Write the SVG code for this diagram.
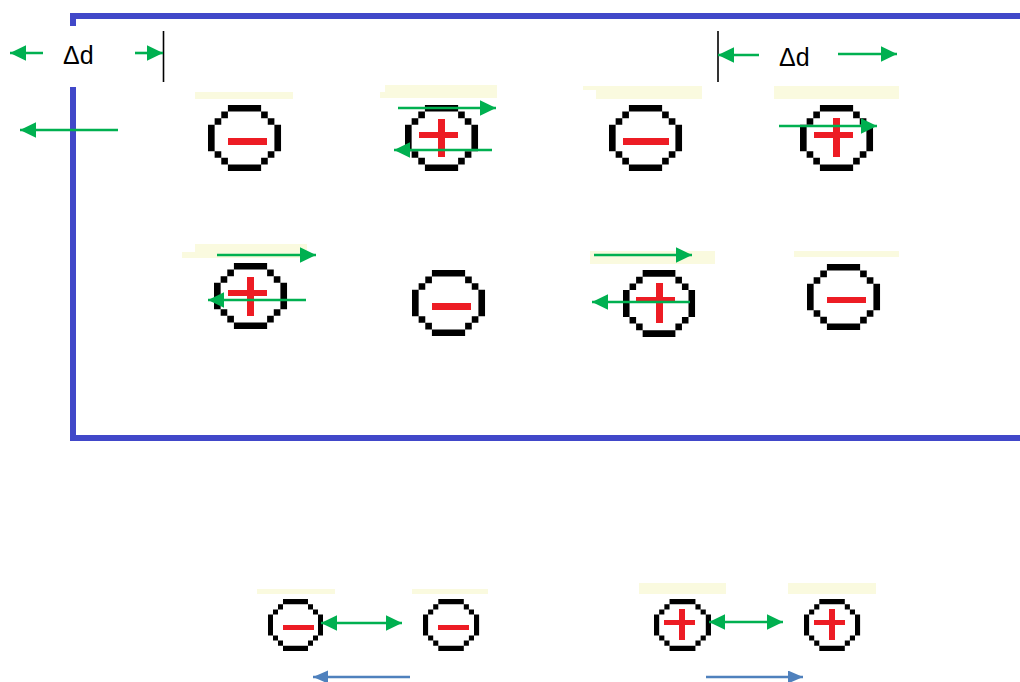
<svg xmlns="http://www.w3.org/2000/svg" xmlns:xlink="http://www.w3.org/1999/xlink" width="1020" height="682" viewBox="0 0 1020 682">
  <style>
    .frame { fill: #4148C9; }
    .hl { fill: #FAFADF; }
    .ring { fill: #000000; }
    .sign { fill: #ED1C24; }
    .tick { stroke: #000000; stroke-width: 1.6; }
    .garrow { stroke: #00B050; stroke-width: 2.6; fill: none; marker-end: url(#gHead); }
    .gboth { stroke: #00B050; stroke-width: 2.6; fill: none; marker-start: url(#gHead); marker-end: url(#gHead); }
    .barrow { stroke: #4F81BD; stroke-width: 2.6; fill: none; marker-end: url(#bHead); }
    .label { font-family: "Liberation Sans", Arial, sans-serif; font-size: 25px; fill: #000000; }
  </style>
  <defs>
    <!-- pixel-style ring on an 11 x 10 grid -->
    <path id="ring" d="M3 0h5v1h-5z M2 1h1v1h-1z M8 1h1v1h-1z M1 2h1v1h-1z M9 2h1v1h-1z M0 3h1v4h-1z M10 3h1v4h-1z M1 7h1v1h-1z M9 7h1v1h-1z M2 8h1v1h-1z M8 8h1v1h-1z M3 9h5v1h-5z"/>
    <marker id="gHead" markerUnits="userSpaceOnUse" markerWidth="17" markerHeight="16" refX="16" refY="7.8" orient="auto-start-reverse">
      <path d="M0 0 L16 7.8 L0 15.6 Z" fill="#00B050"/>
    </marker>
    <marker id="bHead" markerUnits="userSpaceOnUse" markerWidth="16" markerHeight="14" refX="15" refY="6.5" orient="auto">
      <path d="M0 0 L15 6.5 L0 13 Z" fill="#4F81BD"/>
    </marker>
  </defs>

  <!-- container frame -->
  <g id="frame">
    <rect class="frame" x="70" y="13" width="950" height="6"/>
    <rect class="frame" x="70" y="13" width="6" height="13"/>
    <rect class="frame" x="70" y="87" width="6" height="354"/>
    <rect class="frame" x="70" y="435" width="950" height="6"/>
  </g>

  <!-- pale highlight strips -->
  <g id="highlights">
    <rect class="hl" x="195" y="92" width="98" height="7"/>
    <polygon class="hl" points="385,85 497,85 497,98 380,98 380,92 385,92"/>
    <polygon class="hl" points="583,86 702,86 702,99 596,99 596,90 583,90"/>
    <rect class="hl" x="774" y="86" width="125" height="13"/>
    <polygon class="hl" points="195,244 307,244 307,258 182,258 182,252 195,252"/>
    <rect class="hl" x="590" y="251" width="125" height="13"/>
    <rect class="hl" x="794" y="251" width="105" height="6"/>
    <rect class="hl" x="257" y="589" width="78" height="5"/>
    <rect class="hl" x="412" y="589" width="76" height="5"/>
    <rect class="hl" x="639" y="583" width="87" height="11"/>
    <rect class="hl" x="788" y="583" width="88" height="11"/>
  </g>

  <!-- displacement markers -->
  <g id="delta-left">
    <line class="tick" x1="163.5" y1="31" x2="163.5" y2="82"/>
    <text class="label" x="63" y="63.5">Δd</text>
  </g>
  <g id="delta-right">
    <line class="tick" x1="718" y1="31" x2="718" y2="82"/>
    <text class="label" x="779" y="66">Δd</text>
  </g>

  <!-- row 1 -->
  <g id="ion-r1c1">
    <use xlink:href="#ring" class="ring" transform="translate(208,105) scale(6.64,6.6)"/>
    <rect class="sign" x="228" y="138" width="39" height="7"/>
  </g>
  <g id="ion-r1c2">
    <use xlink:href="#ring" class="ring" transform="translate(405,105) scale(6.64,6.6)"/>
    <rect class="sign" x="419" y="132" width="39" height="6"/>
    <rect class="sign" x="438" y="119" width="7" height="38"/>
  </g>
  <g id="ion-r1c3">
    <use xlink:href="#ring" class="ring" transform="translate(609,105) scale(6.64,6.6)"/>
    <rect class="sign" x="623" y="138" width="46" height="7"/>
  </g>
  <g id="ion-r1c4">
    <use xlink:href="#ring" class="ring" transform="translate(800,105) scale(6.64,6.6)"/>
    <rect class="sign" x="814" y="132" width="39" height="6"/>
    <rect class="sign" x="833" y="118" width="7" height="39"/>
  </g>

  <!-- row 2 -->
  <g id="ion-r2c1">
    <use xlink:href="#ring" class="ring" transform="translate(214,263) scale(6.64,6.6)"/>
    <rect class="sign" x="228" y="290" width="39" height="6"/>
    <rect class="sign" x="247" y="277" width="7" height="39"/>
  </g>
  <g id="ion-r2c2">
    <use xlink:href="#ring" class="ring" transform="translate(412,270) scale(6.64,6.6)"/>
    <rect class="sign" x="432" y="303" width="39" height="7"/>
  </g>
  <g id="ion-r2c3">
    <use xlink:href="#ring" class="ring" transform="translate(623,270) scale(6.55,6.7)"/>
    <rect class="sign" x="636" y="297" width="39" height="6"/>
    <rect class="sign" x="656" y="283" width="7" height="40"/>
  </g>
  <g id="ion-r2c4">
    <use xlink:href="#ring" class="ring" transform="translate(807,264) scale(6.64,6.6)"/>
    <rect class="sign" x="827" y="297" width="39" height="6"/>
  </g>

  <!-- isolated pairs -->
  <g id="ion-pair-neg-a">
    <use xlink:href="#ring" class="ring" transform="translate(268,599) scale(5,5.2)"/>
    <rect class="sign" x="283" y="625" width="31" height="5"/>
  </g>
  <g id="ion-pair-neg-b">
    <use xlink:href="#ring" class="ring" transform="translate(423,599) scale(5.1,5.2)"/>
    <rect class="sign" x="438" y="625" width="31" height="5"/>
  </g>
  <g id="ion-pair-pos-a">
    <use xlink:href="#ring" class="ring" transform="translate(654,599) scale(5.18,5.2)"/>
    <rect class="sign" x="664" y="620" width="31" height="5"/>
    <rect class="sign" x="679" y="609" width="6" height="31"/>
  </g>
  <g id="ion-pair-pos-b">
    <use xlink:href="#ring" class="ring" transform="translate(804,599) scale(5.1,5.2)"/>
    <rect class="sign" x="814" y="620" width="31" height="5"/>
    <rect class="sign" x="829" y="609" width="6" height="31"/>
  </g>

  <!-- arrows -->
  <g id="connectors">
    <line class="garrow" x1="43" y1="53" x2="10" y2="53"/>
    <line class="garrow" x1="135" y1="53" x2="163" y2="53"/>
    <line class="garrow" x1="759" y1="55" x2="718" y2="55"/>
    <line class="garrow" x1="838" y1="54" x2="897" y2="54"/>
    <line class="garrow" x1="118" y1="130" x2="20" y2="130"/>

    <line class="garrow" x1="398" y1="108" x2="496" y2="108"/>
    <line class="garrow" x1="492" y1="150" x2="394" y2="150"/>
    <line class="garrow" x1="779" y1="126" x2="877" y2="126"/>

    <line class="garrow" x1="217" y1="255" x2="316" y2="255"/>
    <line class="garrow" x1="306" y1="300" x2="208" y2="300"/>
    <line class="garrow" x1="594" y1="255" x2="692" y2="255"/>
    <line class="garrow" x1="690" y1="302" x2="592" y2="302"/>

    <line class="gboth" x1="321" y1="623" x2="402" y2="623"/>
    <line class="gboth" x1="709" y1="622" x2="783" y2="622"/>

    <line class="barrow" x1="410" y1="677" x2="313" y2="677"/>
    <line class="barrow" x1="706" y1="677" x2="803" y2="677"/>
  </g>
</svg>
